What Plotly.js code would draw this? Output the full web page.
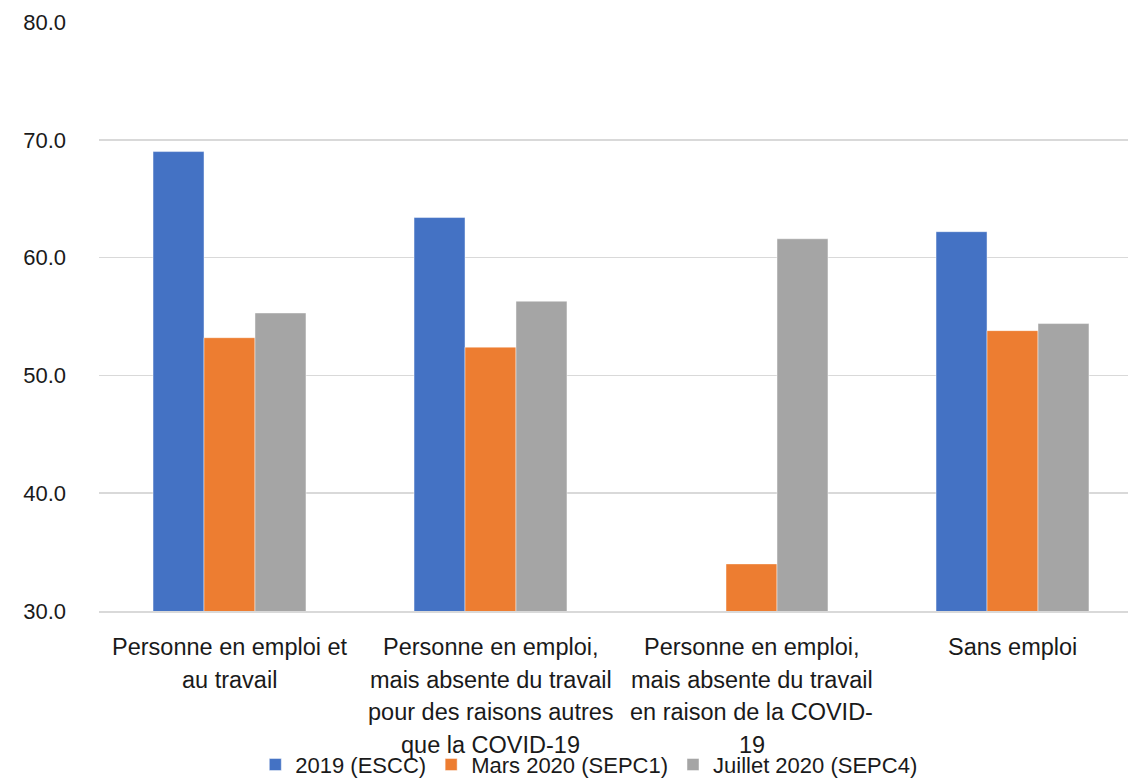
<!DOCTYPE html>
<html>
<head>
<meta charset="utf-8">
<script src="https://cdn.plot.ly/plotly-3.0.1.min.js"></script>
<style>
  html, body { margin: 0; padding: 0; overflow: hidden; background: #fff; }
  #chart { width: 1128px; height: 782px; }
</style>
</head>
<body>
<div id="chart"></div>
<script>
// Categories (full names) and their wrapped label lines
const categories = [
  "Personne en emploi et au travail",
  "Personne en emploi, mais absente du travail pour des raisons autres que la COVID-19",
  "Personne en emploi, mais absente du travail en raison de la COVID-19",
  "Sans emploi"
];
const categoryLines = [
  ["Personne en emploi et", "au travail"],
  ["Personne en emploi,", "mais absente du travail", "pour des raisons autres", "que la COVID-19"],
  ["Personne en emploi,", "mais absente du travail", "en raison de la COVID-", "19"],
  ["Sans emploi"]
];

// Series
const seriesNames = ["2019 (ESCC)", "Mars 2020 (SEPC1)", "Juillet 2020 (SEPC4)"];
const values2019 = [69.0, 63.4, null, 62.2];
const valuesMars2020 = [53.2, 52.4, 34.0, 53.8];
const valuesJuillet2020 = [55.3, 56.3, 61.6, 54.4];
const seriesColors = ["#4472C4", "#ED7D31", "#A5A5A5"];

// Y axis ticks
const yTicks = [30, 40, 50, 60, 70, 80];
const yTickLabels = ["30.0", "40.0", "50.0", "60.0", "70.0", "80.0"];

const FONT = "Liberation Sans, Arial, sans-serif";
const TEXT_COLOR = "#1a1a1a";

const seriesValues = [values2019, valuesMars2020, valuesJuillet2020];
const traces = seriesValues.map((vals, i) => ({
  type: "bar",
  name: seriesNames[i],
  legendgroup: "g" + i,
  x: categories,
  y: vals,
  marker: {
    color: seriesColors[i],
    line: { color: "rgba(255,255,255,0.45)", width: 1 }
  },
  hoverinfo: "y+name"
}));

const annotations = [];
categoryLines.forEach((lines, ci) => {
  lines.forEach((line, li) => {
    annotations.push({
      x: categories[ci],
      xref: "x",
      y: 0,
      yref: "paper",
      yanchor: "middle",
      xanchor: "center",
      yshift: -36 - li * 32.7,
      borderpad: 0,
      text: line,
      showarrow: false,
      font: { family: FONT, size: 23.5, color: TEXT_COLOR }
    });
  });
});

const layout = {
  width: 1128,
  height: 782,
  margin: { l: 99, r: 0, t: 22, b: 171, autoexpand: false },
  paper_bgcolor: "#ffffff",
  plot_bgcolor: "#ffffff",
  font: { family: FONT, size: 22, color: TEXT_COLOR },
  barmode: "group",
  bargap: 0.414,
  bargroupgap: 0,
  xaxis: {
    type: "category",
    range: [-0.5, 3.4425],
    showticklabels: false,
    ticks: "",
    showgrid: false,
    showline: true,
    linecolor: "#D9D9D9",
    linewidth: 1.5,
    zeroline: false,
    fixedrange: true
  },
  yaxis: {
    range: [30, 80],
    tickvals: yTicks,
    ticktext: yTickLabels,
    ticks: "",
    ticklabelstandoff: 32,
    tickfont: { family: FONT, size: 22, color: TEXT_COLOR },
    showgrid: true,
    gridcolor: "#D9D9D9",
    gridwidth: 1.5,
    zeroline: false,
    showline: false,
    fixedrange: true
  },
  legend: {
    orientation: "h",
    x: 0.476,
    xanchor: "center",
    y: -0.261,
    yanchor: "middle",
    font: { family: FONT, size: 22, color: TEXT_COLOR },
    bgcolor: "rgba(0,0,0,0)",
    traceorder: "grouped",
    tracegroupgap: 20
  },
  annotations: annotations,
  showlegend: true
};

Plotly.newPlot("chart", traces, layout, { displayModeBar: false, staticPlot: true });
</script>
</body>
</html>
